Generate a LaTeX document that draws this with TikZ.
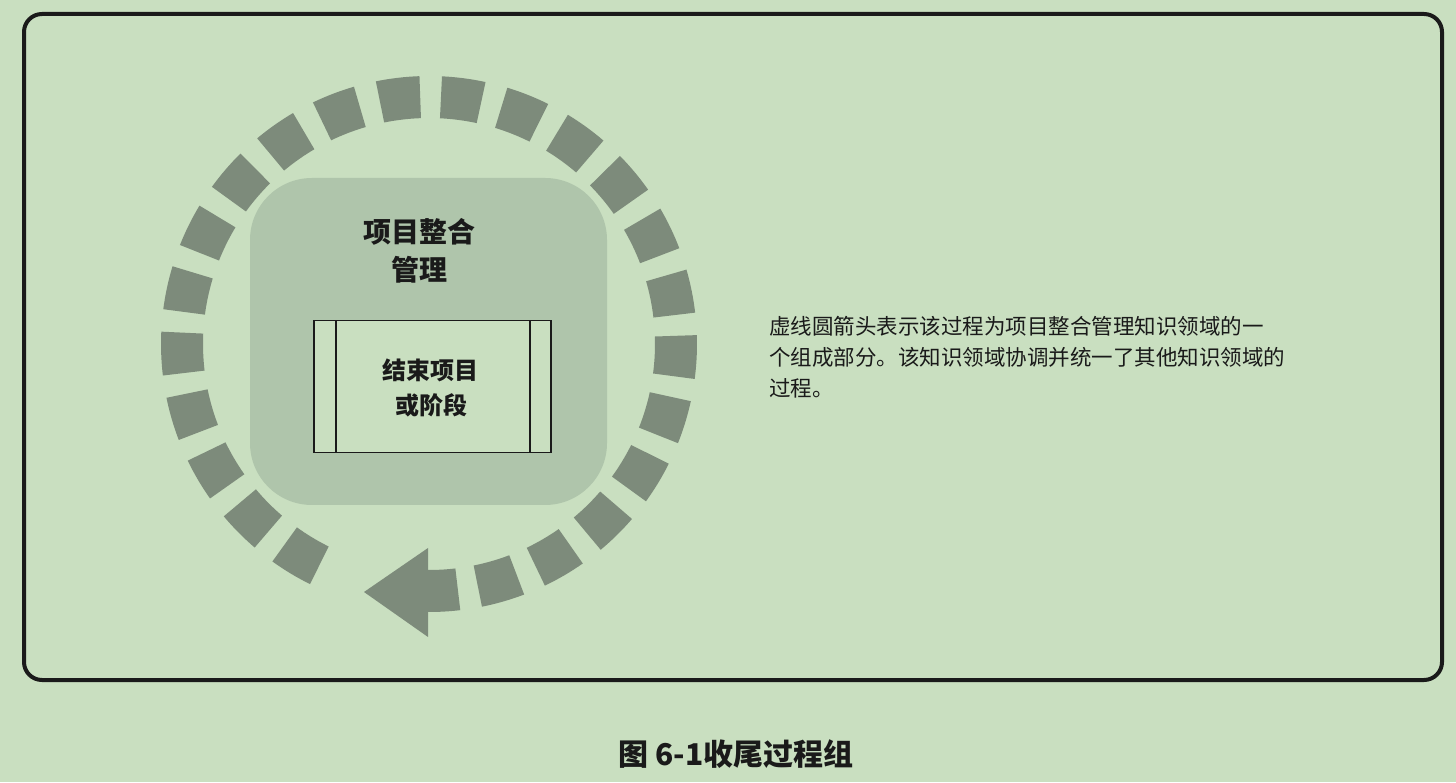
\documentclass[tikz,border=0pt]{standalone}
\usepackage{fontspec}
\newfontfamily\cjk{Noto Sans CJK SC}
\definecolor{bg}{RGB}{201,223,192}
\definecolor{seg}{RGB}{125,139,123}
\definecolor{innerc}{RGB}{175,197,171}
\definecolor{ink}{RGB}{26,26,26}
\tikzset{
  segfill/.style={fill=seg},
  frame/.style={draw=ink, line width=4, rounded corners=18},
  boxtext/.style={font=\cjk\bfseries\fontsize{24}{28}\selectfont, text=ink, anchor=base, inner sep=0},
  toptext/.style={font=\cjk\bfseries\fontsize{28}{32}\selectfont, text=ink, anchor=base, inner sep=0},
  desc/.style={font=\cjk\fontsize{21.5}{26}\selectfont, text=ink, anchor=base west, inner sep=0},
  captext/.style={font=\cjk\bfseries\fontsize{30}{34}\selectfont, text=ink, anchor=base, inner sep=0},
}
\begin{document}
\begin{tikzpicture}[x=1pt,y=1pt]
\fill[bg] (0,0) rectangle (1456,782);
\useasboundingbox (0,0) rectangle (1456,782);
% frame
\draw[frame] (24,102) rectangle (1442,768);
% dashed circular arrow
\begin{scope}[shift={(429,438)}]
  \foreach \k in {0,...,22}{
    \pgfmathsetmacro\a{-73.9+14.22*\k-4.7}
    \pgfmathsetmacro\b{-73.9+14.22*\k+4.7}
    \fill[segfill] (\a:268) arc[start angle=\a, end angle=\b, radius=268]
      -- (\b:226) arc[start angle=\b, end angle=\a, radius=226] -- cycle;
  }
  % arrow body
  \fill[segfill] (-90.2:268) arc[start angle=-90.2, end angle=-83.3, radius=268]
      -- (-83.3:226) arc[start angle=-83.3, end angle=-90.2, radius=226] -- cycle;
  % arrow head
  \fill[segfill] (-1,-204) -- (-1,-293) -- (-65,-248) -- cycle;
\end{scope}
% inner rounded square
\fill[innerc, rounded corners=62] (250,277) rectangle (607,604);
% process box
\node[draw=ink, line width=1.6, fill=bg, minimum width=236.7, minimum height=132, inner sep=0] (box) at (432.4,395.3) {};
\draw[ink, line width=1.6] (336,329.3) -- (336,461.3);
\draw[ink, line width=1.6] (530,329.3) -- (530,461.3);
\node[boxtext] (b1) at (430,402) {结束项目};
\node[boxtext] (b2) at (431,367) {或阶段};
% top label
\node[toptext] (t1) at (419,539.4) {项目整合};
\node[toptext] (t2) at (419,501.4) {管理};
% description
\node[desc] (d1) at (769,447.3) {虚线圆箭头表示该过程为项目整合管理知识领域的一};
\node[desc] (d2) at (769,416.8) {个组成部分。该知识领域协调并统一了其他知识领域的};
\node[desc] (d3) at (769,385.8) {过程。};
% caption
\node[captext] (cap) at (736,16.6) {图 6-1收尾过程组};
\end{tikzpicture}
\end{document}
